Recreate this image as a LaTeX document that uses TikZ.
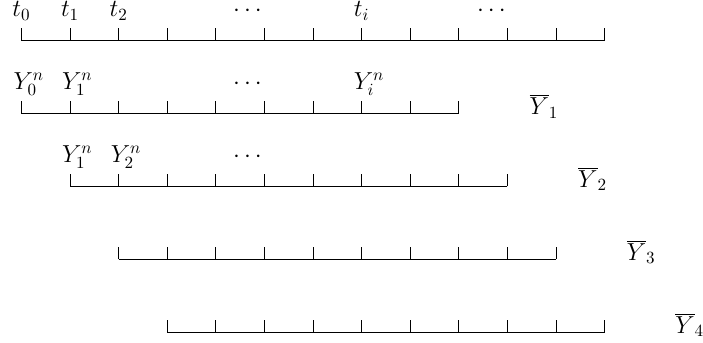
\documentclass[tikz,border=0pt]{standalone}
\begin{document}
\begin{tikzpicture}[x=1cm,y=1cm,
  lab/.style={anchor=base,inner sep=0pt,font=\Large},
  axisline/.style={line width=0.5pt,black}]
\useasboundingbox (-0.442,-6.224) rectangle (14.023,0.833);
% rows of ticks
\foreach \r/\a/\b in {1/0/12, 2/0/9, 3/1/10, 4/2/11, 5/3/12} {
  \pgfmathsetmacro\yy{-1.5*(\r-1)}
  \coordinate (L\r) at (\a,\yy);
  \coordinate (R\r) at (\b,\yy);
  \draw[axisline] (L\r) -- (R\r);
  \foreach \k in {\a,...,\b} {
    \coordinate (T\r-\k) at (\k,\yy);
    \draw[axisline] (T\r-\k) -- ++(0,0.25);
  }
}
% row 1 labels
\node[lab] (t0) at (0,0.49) {$t_0$};
\node[lab] (t1) at (1,0.49) {$t_1$};
\node[lab] (t2) at (2,0.49) {$t_2$};
\node[lab] (d1a) at (4.65,0.49) {$\cdots$};
\node[lab] (ti) at (7,0.49) {$t_i$};
\node[lab] (d1b) at (9.67,0.49) {$\cdots$};
% row 2 labels
\node[lab] (y20) at (0.15,-1.01) {$Y_0^n$};
\node[lab] (y21) at (1.15,-1.01) {$Y_1^n$};
\node[lab] (d2) at (4.65,-1.01) {$\cdots$};
\node[lab] (y2i) at (7.15,-1.01) {$Y_i^n$};
\node[lab] (yb1) at (10.75,-1.52) {$\overline{Y}_1$};
% row 3 labels
\node[lab] (y31) at (1.15,-2.51) {$Y_1^n$};
\node[lab] (y32) at (2.15,-2.51) {$Y_2^n$};
\node[lab] (d3) at (4.65,-2.51) {$\cdots$};
\node[lab] (yb2) at (11.75,-3.02) {$\overline{Y}_2$};
% rows 4, 5 labels
\node[lab] (yb3) at (12.75,-4.52) {$\overline{Y}_3$};
\node[lab] (yb4) at (13.75,-6.02) {$\overline{Y}_4$};
\end{tikzpicture}
\end{document}
